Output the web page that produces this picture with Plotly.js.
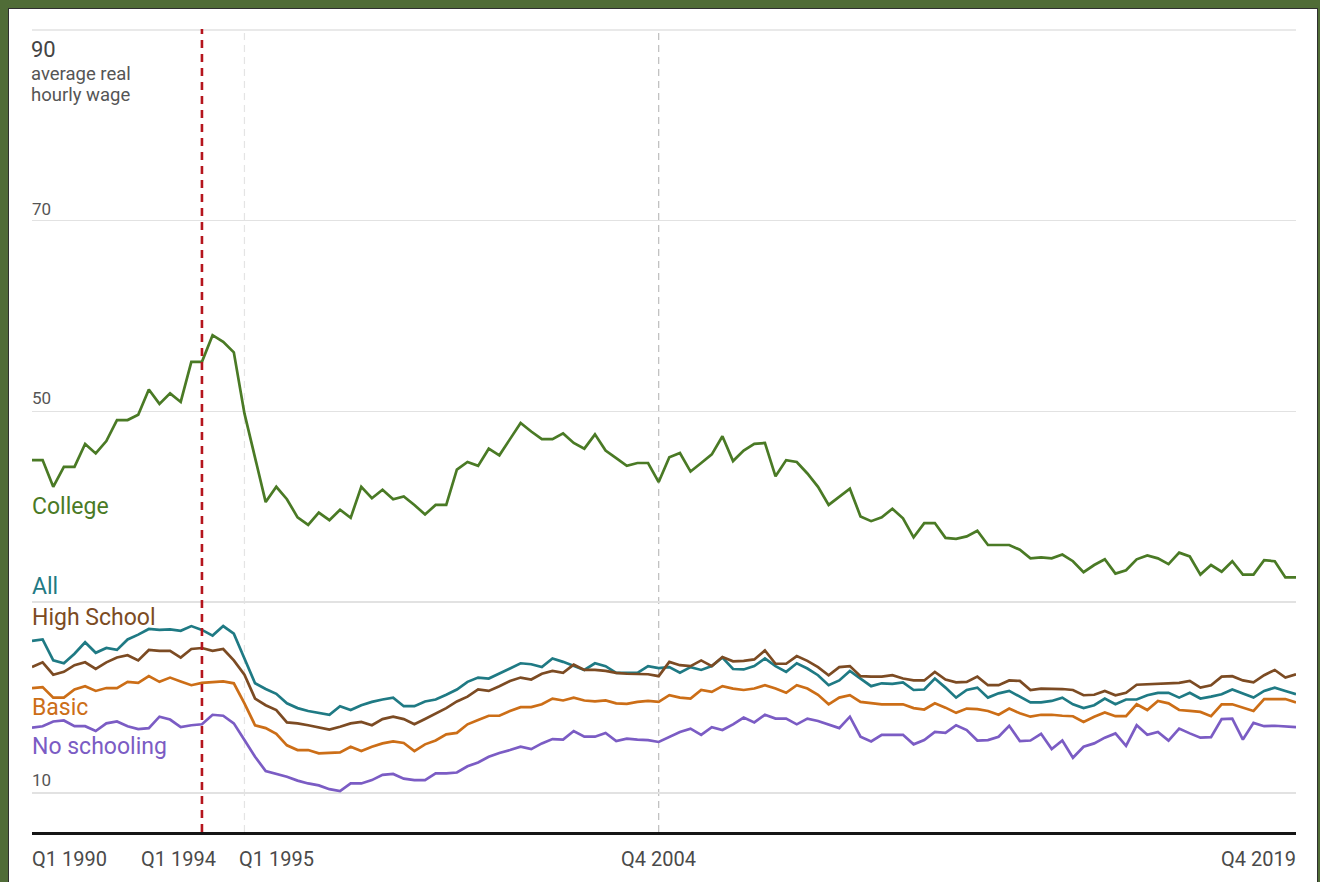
<!DOCTYPE html>
<html>
<head>
<meta charset="utf-8">
<script src="https://cdn.plot.ly/plotly-3.0.1.min.js"></script>
<style>
  html, body { margin: 0; padding: 0; width: 1320px; height: 882px; overflow: hidden; background: #506c37; }
  #frame { position: absolute; left: 8px; top: 8px; width: 1308px; height: 880px; background: #ffffff;
           border-left: 1px solid #2f2f2f; border-top: 1px solid #2f2f2f; border-right: 1px solid #2f2f2f; }
  #chart { position: absolute; left: 0; top: 0; width: 1320px; height: 882px; }
</style>
</head>
<body>
<div id="frame"></div>
<div id="chart"></div>
<script>
// Quarter labels Q1 1990 ... Q4 2019
const years = [];
for (let y = 1990; y <= 2019; y++) years.push(y);
const quarters = [];
years.forEach(y => { for (let q = 1; q <= 4; q++) quarters.push('Q' + q + ' ' + y); });

const college = [44.9,44.9,42.1,44.2,44.2,46.6,45.6,46.9,49.1,49.1,49.65,52.3,50.8,51.9,51.0,55.2,55.2,58.0,57.3,56.2,
  49.8,45.1,40.5,42.1,40.8,38.9,38.1,39.4,38.6,39.7,38.85,42.1,40.9,41.8,40.8,41.1,40.2,39.2,40.2,40.2,
  43.9,44.7,44.3,46.1,45.4,47.1,48.8,47.9,47.1,47.1,47.7,46.7,46.1,47.6,45.9,45.1,44.3,44.6,44.6,42.6,
  45.2,45.65,43.7,44.6,45.5,47.4,44.8,45.9,46.6,46.7,43.2,44.9,44.7,43.5,42.1,40.2,41.1,41.9,39.0,38.5,
  38.9,39.8,38.8,36.8,38.3,38.3,36.75,36.65,36.9,37.5,36.0,36.0,36.0,35.5,34.6,34.7,34.6,35.0,34.3,33.15,
  33.9,34.5,33.0,33.35,34.5,34.9,34.6,34.0,35.2,34.8,32.9,33.9,33.2,34.3,32.9,32.9,34.4,34.3,32.6,32.6];

const allWorkers = [25.95,26.1,23.9,23.6,24.6,25.8,24.7,25.2,25.0,26.1,26.6,27.2,27.1,27.15,27.0,27.5,27.1,26.5,27.5,26.7,
  24.1,21.5,20.9,20.4,19.4,18.9,18.6,18.4,18.2,19.1,18.7,19.2,19.55,19.8,20.0,19.1,19.1,19.6,19.8,20.3,
  20.85,21.65,22.1,22.0,22.5,23.05,23.6,23.5,23.2,24.1,23.75,23.3,22.9,23.6,23.3,22.6,22.6,22.6,23.3,23.1,
  23.2,22.6,23.2,22.9,23.3,24.2,23.0,22.95,23.3,24.1,23.3,22.7,23.6,23.05,22.35,21.3,21.8,22.8,22.0,21.2,
  21.5,21.45,21.6,20.8,20.85,22.0,21.05,20.0,20.8,21.05,20.0,20.45,20.7,20.1,19.5,19.5,19.65,20.0,19.3,18.9,
  19.2,19.9,19.3,19.8,19.8,20.25,20.5,20.5,20.0,20.5,19.9,20.1,20.35,20.85,20.45,20.0,20.7,21.05,20.7,20.35];

const highSchool = [23.2,23.7,22.4,22.7,23.4,23.7,23.0,23.7,24.2,24.45,23.9,25.0,24.9,24.9,24.2,25.1,25.2,24.9,25.1,23.9,
  22.4,19.9,19.2,18.7,17.4,17.3,17.1,16.9,16.65,16.95,17.3,17.45,17.1,17.75,18.0,17.75,17.2,17.75,18.35,18.9,
  19.6,20.1,20.85,20.7,21.2,21.75,22.1,21.9,22.5,22.8,22.6,23.45,22.9,22.9,22.8,22.6,22.5,22.5,22.45,22.25,
  23.75,23.4,23.3,23.9,23.3,24.25,23.8,23.85,24.0,24.95,23.55,23.55,24.35,23.85,23.2,22.35,23.2,23.3,22.25,22.2,
  22.2,22.35,22.0,21.8,21.8,22.7,21.9,21.6,21.65,22.2,21.3,21.3,21.8,21.75,20.8,20.95,20.95,20.9,20.8,20.25,
  20.3,20.7,20.25,20.5,21.35,21.4,21.5,21.5,21.55,21.75,21.05,21.3,22.2,22.25,21.8,21.6,22.35,22.9,22.1,22.45];

const basic = [21.0,21.1,20.0,20.0,20.85,21.2,20.7,21.0,21.0,21.65,21.55,22.25,21.65,22.1,21.7,21.3,21.55,21.6,21.7,21.5,
  19.4,17.1,16.8,16.2,15.0,14.5,14.5,14.15,14.2,14.25,14.85,14.4,14.85,15.2,15.4,15.25,14.4,15.1,15.5,16.15,
  16.3,17.2,17.65,18.1,18.1,18.6,19.0,19.0,19.3,19.9,19.7,20.0,19.7,19.6,19.7,19.4,19.35,19.55,19.65,19.55,
  20.25,20.0,19.9,20.8,20.6,21.2,20.95,20.8,20.95,21.3,20.95,20.5,21.3,20.95,20.3,19.3,20.0,20.25,19.55,19.4,
  19.3,19.3,19.3,18.9,18.75,19.4,18.95,18.4,18.85,18.8,18.6,18.2,18.85,18.35,18.0,18.2,18.2,18.1,18.05,17.45,
  18.0,18.45,18.05,18.05,19.3,18.7,19.65,19.4,18.7,18.6,18.5,18.05,19.3,19.3,18.95,18.6,19.85,19.85,19.85,19.5];

const noSchooling = [16.85,17.0,17.5,17.6,17.0,17.0,16.5,17.3,17.5,17.0,16.7,16.8,18.0,17.7,16.9,17.1,17.2,18.2,18.1,17.3,
  15.55,13.8,12.3,12.0,11.7,11.3,11.0,10.8,10.4,10.2,11.0,11.0,11.35,11.9,12.0,11.5,11.35,11.35,12.05,12.05,
  12.15,12.8,13.2,13.8,14.2,14.5,14.85,14.6,15.2,15.65,15.6,16.5,15.9,15.9,16.3,15.45,15.7,15.6,15.55,15.35,
  15.9,16.4,16.75,16.1,16.9,16.6,17.2,17.9,17.4,18.2,17.8,17.8,17.2,17.8,17.55,17.2,16.8,18.0,15.9,15.4,
  16.1,16.1,16.1,15.1,15.55,16.4,16.3,17.1,16.6,15.5,15.55,15.9,17.05,15.45,15.5,16.2,14.6,15.5,13.7,14.85,
  15.2,15.8,16.25,14.95,17.1,16.1,16.4,15.5,16.75,16.25,15.8,15.85,17.75,17.8,15.6,17.35,17.0,17.05,16.95,16.9];

const seriesNames = ['College', 'All', 'High School', 'Basic', 'No schooling'];
const seriesColors = ['#4a7a25', '#1f7a84', '#7c4b23', '#cc6e17', '#7b5cc4'];
const seriesData = [college, allWorkers, highSchool, basic, noSchooling];
const labelY = [40.0, 31.6, 28.45, 19.0, 14.9];

const yTickVals = [10, 30, 50, 70, 90];
const yTickLabels = [{v: 70, t: '70', y: 71.2}, {v: 50, t: '50', y: 51.4}, {v: 10, t: '10', y: 11.36}];
const yTitleTop = '90';
const yTitleLines = ['average real', 'hourly wage'];

const xTickLabels = ['Q1 1990', 'Q1 1994', 'Q1 1995', 'Q4 2004', 'Q4 2019'];

const font = 'Roboto, "Open Sans", Arial, sans-serif';

const traces = seriesData.map((d, k) => ({
  type: 'scatter', mode: 'lines', x: quarters, y: d, name: seriesNames[k],
  line: {color: seriesColors[k], width: 2.7}, hoverinfo: 'x+y+name'
}));

const annotations = [];
seriesNames.forEach((n, k) => {
  annotations.push({xref: 'paper', x: 0, xanchor: 'left', yref: 'y', y: labelY[k], yanchor: 'middle',
    text: n, showarrow: false, xshift: -2, font: {family: font, size: 23, color: seriesColors[k]}});
});
yTickLabels.forEach(o => {
  annotations.push({xref: 'paper', x: 0, xanchor: 'left', yref: 'y', y: o.y, yanchor: 'middle',
    text: o.t, showarrow: false, xshift: -2, font: {family: font, size: 17, color: '#555555'}});
});
annotations.push({xref: 'paper', x: 0, xanchor: 'left', yref: 'y', y: 87.95, yanchor: 'middle',
  text: yTitleTop, showarrow: false, xshift: -2, borderpad: 0, font: {family: font, size: 22, color: '#444444'}});
annotations.push({xref: 'paper', x: 0, xanchor: 'left', yref: 'y', y: 85.4, yanchor: 'middle',
  text: yTitleLines[0], showarrow: false, xshift: -2, borderpad: 0, font: {family: font, size: 18.5, color: '#555555'}});
annotations.push({xref: 'paper', x: 0, xanchor: 'left', yref: 'y', y: 83.2, yanchor: 'middle',
  text: yTitleLines[1], showarrow: false, xshift: -2, borderpad: 0, font: {family: font, size: 18.5, color: '#555555'}});

const xLabelPlacement = [
  {anchor: 'left', shift: -2},
  {anchor: 'right', shift: 16},
  {anchor: 'left', shift: -7},
  {anchor: 'center', shift: 0},
  {anchor: 'right', shift: 2}
];
xTickLabels.forEach((t, k) => {
  annotations.push({xref: 'x', x: t, xanchor: xLabelPlacement[k].anchor, xshift: xLabelPlacement[k].shift,
    yref: 'paper', y: -0.034, yanchor: 'middle', text: t, showarrow: false,
    font: {family: font, size: 20, color: '#4a4a4a'}});
});

const shapes = [
  {type: 'line', layer: 'below', xref: 'x', x0: 'Q1 1995', x1: 'Q1 1995', yref: 'paper', y0: 0, y1: 1,
   line: {color: '#e4e4e4', width: 1.2, dash: '7px,5px'}},
  {type: 'line', layer: 'below', xref: 'x', x0: 'Q4 2004', x1: 'Q4 2004', yref: 'paper', y0: 0, y1: 1,
   line: {color: '#bdbdbd', width: 1.2, dash: '7px,5px'}},
  {type: 'line', layer: 'below', xref: 'paper', x0: 0, x1: 1, yref: 'y', y0: 10, y1: 10,
   line: {color: '#c4c4c4', width: 2}},
  {type: 'line', layer: 'below', xref: 'paper', x0: 0, x1: 1, yref: 'y', y0: 90, y1: 90,
   line: {color: '#e2e2e2', width: 1.5}},
  {type: 'line', layer: 'above', xref: 'x', x0: 'Q1 1994', x1: 'Q1 1994', yref: 'paper', y0: 0, y1: 1,
   line: {color: '#b5151d', width: 2.6, dash: '8px,6px'}}
];

const layout = {
  width: 1320, height: 882,
  margin: {l: 32, r: 24, t: 29, b: 50, pad: 0},
  paper_bgcolor: 'rgba(0,0,0,0)', plot_bgcolor: 'rgba(0,0,0,0)',
  showlegend: false,
  font: {family: font},
  xaxis: {type: 'category', range: [0, 119], showgrid: false, zeroline: false, showticklabels: false,
          ticks: '', showline: true, linecolor: '#151515', linewidth: 3, fixedrange: true},
  yaxis: {range: [5.91, 90.1], tickvals: yTickVals, showticklabels: false, ticks: '', showgrid: true,
          gridcolor: '#e2e2e2', gridwidth: 1.5, zeroline: false, showline: false, fixedrange: true},
  annotations: annotations,
  shapes: shapes
};

Plotly.newPlot('chart', traces, layout, {displayModeBar: false, staticPlot: true});
</script>
</body>
</html>
